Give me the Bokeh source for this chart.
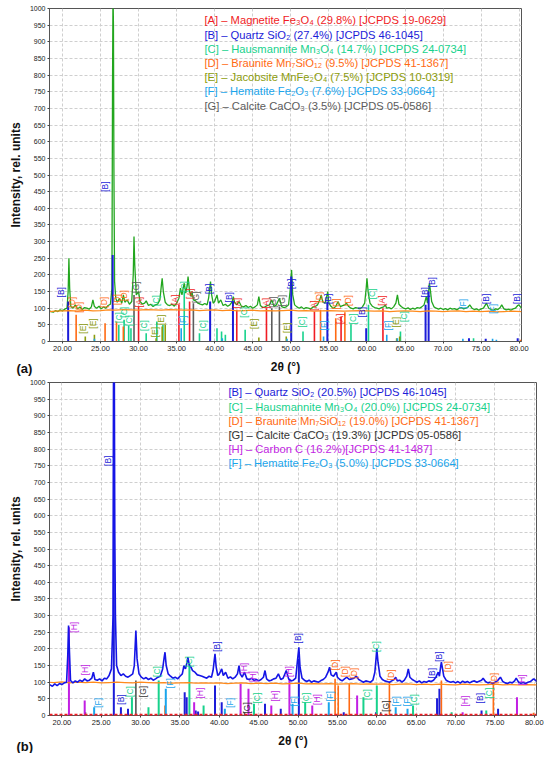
import numpy as np
from bokeh.plotting import figure
from bokeh.models import Range1d, FixedTicker, NumeralTickFormatter, Label, Span, ColumnDataSource, Title
from bokeh.layouts import column
from bokeh.embed import file_html
from bokeh.resources import INLINE
from bokeh.core.properties import value

FONT = "Liberation Sans"

# ---------------- colours ----------------
COL = {"A": "#f01c24", "B": "#1c1cd8", "C": "#17d28c", "D": "#ff6a13",
       "E": "#8c9c0c", "F": "#1aa5ec", "G": "#5c5c5c", "H": "#c21fe3"}

x_ticks = [20, 25, 30, 35, 40, 45, 50, 55, 60, 65, 70, 75, 80]
y_ticks = list(range(0, 1001, 50))

# ---------------- panel (a): measured pattern (2theta, intensity) ----------------
top_pattern = [
    (18.3, 92), (18.5, 90), (18.8, 88), (19.1, 93), (19.4, 90), (19.7, 95), (20.0, 92), (20.3, 97), (20.6, 100),
    (20.75, 150), (20.85, 250), (20.95, 160), (21.1, 105), (21.4, 100), (21.7, 110), (22.0, 98), (22.3, 104),
    (22.6, 96), (22.9, 102), (23.2, 100), (23.5, 97), (23.8, 104), (24.0, 125), (24.2, 105), (24.5, 100),
    (24.8, 106), (25.1, 98), (25.4, 104), (25.7, 100), (26.0, 108), (26.3, 112), (26.5, 160), (26.58, 780),
    (26.64, 1050), (26.7, 950), (26.76, 520), (26.85, 180), (27.0, 130), (27.2, 118), (27.5, 130), (27.8, 115),
    (28.0, 140), (28.2, 118), (28.5, 125), (28.8, 112), (29.1, 120), (29.3, 200), (29.4, 315), (29.5, 230),
    (29.7, 140), (30.0, 150), (30.2, 120), (30.5, 112), (30.8, 115), (31.0, 122), (31.3, 108), (31.6, 112),
    (31.9, 105), (32.2, 110), (32.5, 112), (32.8, 125), (33.0, 170), (33.1, 190), (33.25, 150), (33.5, 118),
    (33.8, 110), (34.1, 108), (34.4, 112), (34.7, 106), (35.0, 115), (35.3, 130), (35.5, 160), (35.7, 140),
    (35.9, 165), (36.0, 175), (36.2, 145), (36.4, 170), (36.5, 195), (36.7, 150), (36.9, 135), (37.0, 150),
    (37.2, 125), (37.5, 122), (37.8, 115), (38.1, 112), (38.4, 110), (38.7, 114), (39.0, 110), (39.2, 130),
    (39.45, 180), (39.6, 140), (39.8, 115), (40.0, 120), (40.3, 140), (40.5, 115), (40.8, 125), (41.1, 108),
    (41.4, 112), (41.7, 106), (42.0, 110), (42.3, 120), (42.45, 135), (42.6, 118), (42.9, 110), (43.2, 120),
    (43.5, 106), (43.8, 104), (44.1, 108), (44.4, 102), (44.7, 106), (45.0, 100), (45.3, 104), (45.6, 110),
    (45.8, 135), (46.0, 108), (46.3, 102), (46.6, 104), (46.9, 108), (47.2, 110), (47.5, 125), (47.8, 105),
    (48.1, 110), (48.5, 130), (48.8, 105), (49.1, 102), (49.4, 104), (49.7, 110), (49.9, 150), (50.1, 215),
    (50.25, 140), (50.5, 110), (50.8, 104), (51.1, 100), (51.4, 104), (51.7, 98), (52.0, 102), (52.3, 100),
    (52.6, 98), (52.9, 103), (53.2, 105), (53.5, 110), (53.8, 125), (54.0, 140), (54.2, 118), (54.5, 115),
    (54.85, 150), (55.0, 115), (55.3, 105), (55.6, 100), (55.9, 105), (56.2, 120), (56.5, 105), (56.8, 108),
    (57.1, 110), (57.3, 115), (57.6, 105), (57.9, 100), (58.2, 98), (58.5, 102), (58.8, 100), (59.1, 98),
    (59.4, 104), (59.7, 115), (59.9, 160), (60.0, 190), (60.15, 150), (60.4, 115), (60.7, 106), (61.0, 102),
    (61.3, 100), (61.6, 98), (61.9, 102), (62.2, 104), (62.4, 110), (62.6, 100), (62.9, 102), (63.2, 98),
    (63.5, 104), (63.8, 115), (64.0, 140), (64.2, 112), (64.5, 105), (64.8, 100), (65.1, 98), (65.4, 101),
    (65.7, 96), (66.0, 100), (66.3, 97), (66.6, 102), (66.9, 100), (67.2, 104), (67.5, 110), (67.8, 135),
    (67.95, 115), (68.1, 150), (68.2, 175), (68.35, 150), (68.5, 120), (68.8, 104), (69.1, 100), (69.4, 97),
    (69.7, 100), (70.0, 96), (70.3, 99), (70.6, 95), (70.9, 100), (71.2, 97), (71.5, 99), (71.8, 95),
    (72.1, 100), (72.4, 102), (72.7, 98), (73.0, 100), (73.3, 104), (73.5, 110), (73.8, 100), (74.1, 96),
    (74.4, 98), (74.7, 94), (75.0, 98), (75.3, 100), (75.7, 115), (76.0, 100), (76.3, 96), (76.6, 94),
    (76.9, 98), (77.2, 96), (77.5, 102), (77.7, 110), (78.0, 98), (78.3, 95), (78.6, 97), (78.9, 94),
    (79.2, 98), (79.5, 100), (79.8, 108), (79.95, 110), (80.3, 100),
]

bg_2theta = [18.3] + list(range(19, 80)) + [80.3]
top_background = [90, 91, 92, 93, 91, 94, 92, 93, 95, 94,
                  96, 95, 94, 96, 95, 94, 96, 95, 94, 95,
                  93, 94, 95, 93, 94, 92, 93, 94, 92, 93,
                  92, 93, 94, 92, 93, 91, 92, 93, 92, 91,
                  92, 93, 92, 91, 92, 90, 91, 92, 91, 90,
                  92, 91, 90, 91, 92, 90, 91, 90, 91, 89,
                  90, 91, 90]

# reference sticks, panel (a)
a_top_pos = [30.0, 35.3, 36.7, 42.9, 46.8, 53.1, 56.6, 62.1]
a_top_int = [105, 110, 120, 95, 100, 90, 75, 100]
b_top_pos = [20.75, 26.6, 39.4, 42.4, 50.05, 54.8, 59.9, 67.7, 68.1, 73.4, 75.6, 79.8]
b_top_int = [120, 260, 120, 120, 195, 120, 40, 110, 150, 10, 8, 10]
c_top_pos = [27.4, 28.1, 28.7, 29.0, 31.0, 32.4, 33.2, 36.0, 38.0, 40.3, 40.9, 41.4, 44.0, 51.6, 57.9, 60.2, 64.4, 74.0]
c_top_int = [50, 65, 48, 40, 25, 60, 50, 150, 25, 40, 30, 20, 35, 30, 52, 110, 30, 10]
d_top_pos = [21.8, 25.6, 27.1, 28.0, 53.9, 55.9, 57.1, 80.2]
d_top_int = [80, 55, 60, 45, 95, 70, 88, 5]
e_top_pos = [23.0, 24.2, 32.3, 33.1, 33.5, 45.8, 49.4, 63.9, 64.3]
e_top_int = [15, 20, 10, 45, 50, 12, 15, 10, 15]
f_top_pos = [24.2, 35.6, 41.0, 49.5, 54.3, 62.6, 64.0, 72.6, 76.5, 77.0]
f_top_int = [8, 40, 10, 8, 15, 20, 10, 8, 8, 5]
g_top_pos = [29.4, 37.2, 47.5, 48.5]
g_top_int = [140, 115, 100, 105]

# peak tags, panel (a)
a_top_tag_pos = [30.1, 34.8, 36.7, 42.9, 46.7, 53.0, 56.5, 62.0]
a_top_tag_int = [118, 125, 143, 115, 115, 108, 68, 123]
b_top_tag_pos = [19.8, 25.6, 39.3, 41.9, 50.0, 54.9, 59.4, 67.6, 68.5, 75.6, 79.7]
b_top_tag_int = [148, 465, 158, 133, 173, 128, 88, 148, 178, 128, 128]
c_top_tag_pos = [27.4, 28.1, 28.8, 30.7, 32.3, 36.0, 38.4, 43.9, 51.5, 58.2, 60.7, 64.8]
c_top_tag_int = [72, 88, 63, 48, 123, 165, 48, 88, 58, 68, 143, 75]
d_top_tag_pos = [21.3, 22.2, 25.5, 27.2, 28.1, 53.7, 55.9, 57.5]
d_top_tag_int = [118, 103, 118, 126, 138, 133, 113, 123]
e_top_tag_pos = [22.7, 24.0, 32.1, 33.0, 45.2, 49.5, 63.8]
e_top_tag_int = [39, 54, 28, 65, 53, 41, 58]
f_top_tag_pos = [35.9, 54.3, 62.8, 72.6, 76.5]
f_top_tag_int = [63, 48, 48, 113, 98]
g_top_tag_pos = [29.6, 37.6, 47.6, 48.9]
g_top_tag_int = [163, 133, 118, 123]

top_legend = [
    ("A", "[A] – Magnetite Fe₃O₄ (29.8%) [JCPDS 19-0629]"),
    ("B", "[B] – Quartz SiO₂ (27.4%) [JCPDS 46-1045]"),
    ("C", "[C] – Hausmannite Mn₃O₄ (14.7%) [JCPDS 24-0734]"),
    ("D", "[D] – Braunite Mn₇SiO₁₂ (9.5%) [JCPDS 41-1367]"),
    ("E", "[E] – Jacobsite MnFe₂O₄ (7.5%) [JCPDS 10-0319]"),
    ("F", "[F] – Hematite Fe₂O₃ (7.6%) [JCPDS 33-0664]"),
    ("G", "[G] – Calcite CaCO₃ (3.5%) [JCPDS 05-0586]"),
]

# ---------------- panel (b) ----------------
bottom_pattern = [
    (18.3, 94), (18.5, 92), (18.8, 88), (19.1, 95), (19.4, 90), (19.7, 96), (20.0, 93), (20.3, 98), (20.6, 100),
    (20.75, 180), (20.85, 270), (20.95, 200), (21.1, 105), (21.4, 98), (21.7, 104), (22.0, 100), (22.3, 106),
    (22.6, 102), (22.9, 110), (23.2, 104), (23.5, 106), (23.8, 112), (24.0, 130), (24.2, 108), (24.5, 106),
    (24.8, 110), (25.1, 104), (25.4, 112), (25.7, 110), (26.0, 120), (26.3, 140), (26.5, 300), (26.58, 1050),
    (26.66, 1050), (26.72, 560), (26.8, 300), (26.95, 150), (27.2, 130), (27.5, 120), (27.8, 125), (28.1, 118),
    (28.4, 115), (28.7, 120), (29.0, 125), (29.2, 150), (29.4, 255), (29.55, 170), (29.8, 125), (30.1, 115),
    (30.4, 110), (30.7, 114), (31.0, 108), (31.3, 112), (31.6, 106), (31.9, 110), (32.2, 115), (32.5, 118),
    (32.8, 140), (33.0, 175), (33.1, 190), (33.25, 150), (33.5, 125), (33.8, 118), (34.1, 112), (34.4, 115),
    (34.7, 110), (35.0, 118), (35.3, 125), (35.5, 150), (35.7, 140), (35.9, 160), (36.0, 175), (36.2, 150),
    (36.4, 145), (36.6, 135), (36.9, 130), (37.2, 122), (37.5, 120), (37.8, 118), (38.1, 115), (38.4, 112),
    (38.7, 118), (39.0, 115), (39.2, 135), (39.45, 185), (39.6, 145), (39.8, 120), (40.0, 125), (40.3, 140),
    (40.5, 120), (40.8, 130), (41.1, 112), (41.4, 116), (41.7, 110), (42.0, 115), (42.3, 125), (42.5, 150),
    (42.65, 125), (42.9, 115), (43.2, 130), (43.5, 110), (43.8, 108), (44.1, 112), (44.4, 105), (44.7, 108),
    (45.0, 104), (45.3, 108), (45.6, 115), (45.8, 135), (46.0, 110), (46.3, 104), (46.6, 106), (46.9, 110),
    (47.2, 112), (47.5, 125), (47.8, 108), (48.1, 112), (48.5, 135), (48.8, 110), (49.1, 104), (49.4, 106),
    (49.7, 112), (49.9, 160), (50.1, 205), (50.25, 145), (50.5, 112), (50.8, 106), (51.1, 102), (51.4, 106),
    (51.7, 100), (52.0, 104), (52.3, 102), (52.6, 100), (52.9, 105), (53.2, 108), (53.5, 115), (53.8, 130),
    (54.0, 145), (54.2, 122), (54.5, 118), (54.85, 130), (55.0, 115), (55.3, 108), (55.6, 104), (55.9, 110),
    (56.2, 115), (56.5, 108), (56.8, 110), (57.1, 112), (57.4, 118), (57.7, 108), (58.0, 104), (58.3, 100),
    (58.6, 104), (58.9, 102), (59.2, 100), (59.5, 106), (59.75, 130), (59.9, 170), (60.0, 200), (60.15, 160),
    (60.4, 118), (60.7, 108), (61.0, 104), (61.3, 102), (61.6, 100), (61.9, 104), (62.2, 108), (62.4, 115),
    (62.6, 104), (62.9, 106), (63.2, 100), (63.5, 106), (63.8, 118), (64.0, 140), (64.2, 115), (64.5, 108),
    (64.8, 104), (65.1, 100), (65.4, 104), (65.7, 98), (66.0, 102), (66.3, 100), (66.6, 104), (66.9, 102),
    (67.2, 106), (67.5, 115), (67.8, 130), (67.95, 118), (68.1, 145), (68.2, 160), (68.35, 140), (68.5, 118),
    (68.8, 106), (69.1, 102), (69.4, 100), (69.7, 102), (70.0, 98), (70.3, 102), (70.6, 97), (70.9, 103),
    (71.2, 99), (71.5, 102), (71.8, 98), (72.1, 102), (72.4, 104), (72.7, 100), (73.0, 103), (73.3, 106),
    (73.5, 112), (73.8, 102), (74.1, 98), (74.4, 100), (74.7, 96), (75.0, 100), (75.3, 104), (75.7, 115),
    (76.0, 102), (76.3, 98), (76.6, 96), (76.9, 100), (77.2, 98), (77.5, 104), (77.7, 112), (78.0, 100),
    (78.3, 97), (78.6, 99), (78.9, 96), (79.2, 100), (79.5, 102), (79.8, 108), (79.95, 110), (80.3, 102),
]

bottom_background = [100, 99, 101, 98, 100, 99, 100, 98, 99, 100,
                     99, 98, 100, 99, 98, 99, 97, 98, 99, 97,
                     98, 97, 98, 96, 97, 98, 96, 97, 96, 97,
                     95, 96, 97, 95, 96, 95, 96, 94, 95, 96,
                     94, 95, 94, 95, 93, 94, 95, 93, 94, 93,
                     94, 93, 92, 94, 93, 92, 93, 94, 92, 93,
                     92, 93, 92]

b_bot_pos = [26.6, 27.5, 28.4, 35.6, 35.85, 37.0, 37.3, 39.45, 40.3, 45.8, 47.8, 50.1, 55.8, 59.9, 67.65, 67.95, 73.3, 75.4]
b_bot_int = [1000, 25, 20, 70, 55, 15, 12, 90, 40, 35, 20, 170, 10, 10, 52, 80, 15, 20]
c_bot_pos = [28.9, 31.0, 32.3, 36.2, 38.0, 44.4, 50.9, 58.3, 60.0, 64.6, 69.5, 73.9]
c_bot_int = [55, 25, 105, 155, 30, 35, 40, 55, 90, 30, 10, 15]
d_bot_pos = [33.1, 54.7, 55.1, 56.5, 61.6, 68.2, 74.8, 79.9]
d_bot_int = [30, 110, 90, 95, 100, 105, 100, 8]
f_bot_pos = [24.1, 33.2, 40.7, 49.3, 53.9, 62.4, 63.9]
f_bot_int = [25, 80, 20, 35, 40, 25, 20]
g_bot_pos = [23.0, 29.4, 43.2, 60.5]
g_bot_int = [10, 105, 10, 10]
h_bot_pos = [20.9, 22.9, 36.8, 42.7, 43.7, 46.6, 48.9, 51.8, 57.5, 70.9, 77.8]
h_bot_int = [265, 45, 40, 95, 80, 30, 110, 30, 60, 10, 55]

b_bot_tag_pos = [25.8, 27.5, 39.7, 50.0, 67.0, 67.9, 73.1]
b_bot_tag_int = [765, 48, 207, 232, 127, 177, 52]
c_bot_tag_pos = [28.7, 32.1, 36.2, 44.8, 51.0, 58.7, 59.9, 64.7, 74.2]
c_bot_tag_int = [72, 132, 162, 52, 52, 63, 207, 48, 67]
d_bot_tag_pos = [54.7, 56.0, 57.1, 61.8, 69.1, 74.9]
d_bot_tag_int = [152, 132, 127, 122, 147, 112]
f_bot_tag_pos = [24.6, 33.7, 41.3, 49.5, 54.1, 62.4, 63.8]
f_bot_tag_int = [38, 97, 38, 43, 58, 43, 43]
g_bot_tag_pos = [30.3, 43.5, 61.2]
g_bot_tag_int = [72, 23, 28]
h_bot_tag_pos = [21.6, 22.9, 37.6, 43.1, 44.3, 47.1, 48.8, 52.4, 71.2, 78.4]
h_bot_tag_int = [265, 137, 67, 142, 117, 58, 132, 48, 43, 107]

bottom_legend = [
    ("B", "[B] – Quartz SiO₂ (20.5%) [JCPDS 46-1045]"),
    ("C", "[C] – Hausmannite Mn₃O₄ (20.0%) [JCPDS 24-0734]"),
    ("D", "[D] – Braunite Mn₇SiO₁₂ (19.0%) [JCPDS 41-1367]"),
    ("G2", "[G] – Calcite CaCO₃ (19.3%) [JCPDS 05-0586]"),
    ("H", "[H] – Carbon C (16.2%)[JCPDS 41-1487]"),
    ("F", "[F] – Hematite Fe₂O₃ (5.0%) [JCPDS 33-0664]"),
]
COL["G2"] = "#333333"


def make_panel(x0, x1, frame_w, frame_h, b_left, b_top, b_bottom, title_standoff):
    p = figure(frame_width=frame_w, frame_height=frame_h, output_backend="svg", toolbar_location=None,
               x_range=Range1d(x0, x1), y_range=Range1d(0, 1000),
               min_border_left=b_left, min_border_right=550 - b_left - frame_w,
               min_border_top=b_top, min_border_bottom=b_bottom)
    p.background_fill_color = "white"
    p.border_fill_color = "white"
    p.outline_line_color = "#555555"
    p.outline_line_width = 1
    p.xaxis.ticker = FixedTicker(ticks=x_ticks)
    p.yaxis.ticker = FixedTicker(ticks=y_ticks)
    p.xaxis.formatter = NumeralTickFormatter(format="0.00")
    for ax in (p.xaxis, p.yaxis):
        ax.major_label_text_font = FONT
        ax.major_label_text_color = "#222222"
        ax.minor_tick_line_color = None
        ax.major_tick_in = 0
        ax.major_tick_out = 2
        ax.major_tick_line_color = "#444444"
        ax.axis_line_color = "#555555"
        ax.major_label_standoff = 2
        ax.axis_label_text_font = FONT
        ax.axis_label_text_font_style = "bold"
        ax.axis_label_text_font_size = "12px"
        ax.axis_label_text_color = "#111111"
    p.xaxis.major_label_text_font_size = "7.5px"
    p.yaxis.major_label_text_font_size = "7px"
    p.xaxis.axis_label = "2θ (°)"
    p.yaxis.axis_label = "Intensity, rel. units"
    p.xaxis.axis_label_standoff = title_standoff
    p.yaxis.axis_label_standoff = 4
    for g in (p.xgrid, p.ygrid):
        g.grid_line_color = "#cfcfcf"
        g.grid_line_dash = "3 2"
        g.grid_line_width = 1
    p.ygrid.ticker = FixedTicker(ticks=y_ticks)
    return p


def add_sticks(p, pos, inten, color, width=1.6):
    src = ColumnDataSource(dict(x=pos, h=inten, z=[0] * len(pos)))
    p.segment(x0="x", y0="z", x1="x", y1="h", source=src, line_color=color, line_width=width)


def add_tags(p, letter, pos, inten, color):
    src = ColumnDataSource(dict(x=pos, y=inten, t=["[%s]" % letter] * len(pos)))
    p.text(x="x", y="y", text="t", source=src, angle=np.pi / 2, text_color=color,
           text_font=value(FONT), text_font_size="8.5px", text_align="center", text_baseline="middle")


def panel_tag(p, txt, standoff):
    # title in the lower panel, pulled up to the level of the axis title
    p.add_layout(Title(text=txt, align="left", offset=-33, vertical_align="top", text_font=FONT,
                       text_font_style="bold", text_font_size="13px", text_color="#111111",
                       standoff=standoff), "below")


# ============ panel (a) ============
p1 = make_panel(18.3, 80.3, 472, 333, 48, 8, 37, 6)
tx, ty = zip(*top_pattern)
p1.line(list(tx), list(ty), line_color="#22a61e", line_width=1.3)
add_sticks(p1, b_top_pos, b_top_int, COL["B"], 2.0)
add_sticks(p1, a_top_pos, a_top_int, COL["A"])
add_sticks(p1, c_top_pos, c_top_int, COL["C"])
add_sticks(p1, d_top_pos, d_top_int, COL["D"])
add_sticks(p1, e_top_pos, e_top_int, COL["E"])
add_sticks(p1, f_top_pos, f_top_int, COL["F"])
add_sticks(p1, g_top_pos, g_top_int, COL["G"])
p1.line(bg_2theta, top_background, line_color="#ff8a1c", line_width=1.2)
for L, xs, ys in (("A", a_top_tag_pos, a_top_tag_int), ("B", b_top_tag_pos, b_top_tag_int),
                  ("C", c_top_tag_pos, c_top_tag_int), ("D", d_top_tag_pos, d_top_tag_int),
                  ("E", e_top_tag_pos, e_top_tag_int), ("F", f_top_tag_pos, f_top_tag_int),
                  ("G", g_top_tag_pos, g_top_tag_int)):
    add_tags(p1, L, xs, ys, COL[L])
for i, (k, txt) in enumerate(top_legend):
    p1.add_layout(Label(x=38.66, y=964 - i * 42.6, text=txt, text_color=COL[k], text_font=FONT,
                        text_font_size="11.2px", text_baseline="middle", text_align="left"))
panel_tag(p1, "(a)", -31)

# ============ panel (b) ============
p2 = make_panel(18.43, 80.28, 487, 333, 49, 4, 38, 6)
bx, by = zip(*bottom_pattern)
p2.add_layout(Span(location=1.5, dimension="width", line_color="#f01c24", line_width=2.5, line_dash="3 2"))
add_sticks(p2, b_bot_pos, b_bot_int, COL["B"], 2.0)
add_sticks(p2, c_bot_pos, c_bot_int, COL["C"], 2.0)
add_sticks(p2, d_bot_pos, d_bot_int, COL["D"], 1.6)
add_sticks(p2, f_bot_pos, f_bot_int, COL["F"], 2.0)
add_sticks(p2, g_bot_pos, g_bot_int, "#555555", 1.6)
add_sticks(p2, h_bot_pos, h_bot_int, COL["H"], 2.0)
p2.line(bg_2theta, bottom_background, line_color="#ff8a1c", line_width=1.2)
p2.line(list(bx), list(by), line_color="#1515e6", line_width=1.6)
for L, key, xs, ys in (("B", "B", b_bot_tag_pos, b_bot_tag_int), ("C", "C", c_bot_tag_pos, c_bot_tag_int),
                       ("D", "D", d_bot_tag_pos, d_bot_tag_int), ("F", "F", f_bot_tag_pos, f_bot_tag_int),
                       ("G", "G2", g_bot_tag_pos, g_bot_tag_int), ("H", "H", h_bot_tag_pos, h_bot_tag_int)):
    add_tags(p2, L, xs, ys, COL[key])
for i, (k, txt) in enumerate(bottom_legend):
    p2.add_layout(Label(x=41.16, y=970 - i * 42.6, text=txt, text_color=COL[k], text_font=FONT,
                        text_font_size="11.2px", text_baseline="middle", text_align="left"))
panel_tag(p2, "(b)", -24)

layout = column(p1, p2, spacing=0)
open("out.html", "w").write(file_html(layout, INLINE))
